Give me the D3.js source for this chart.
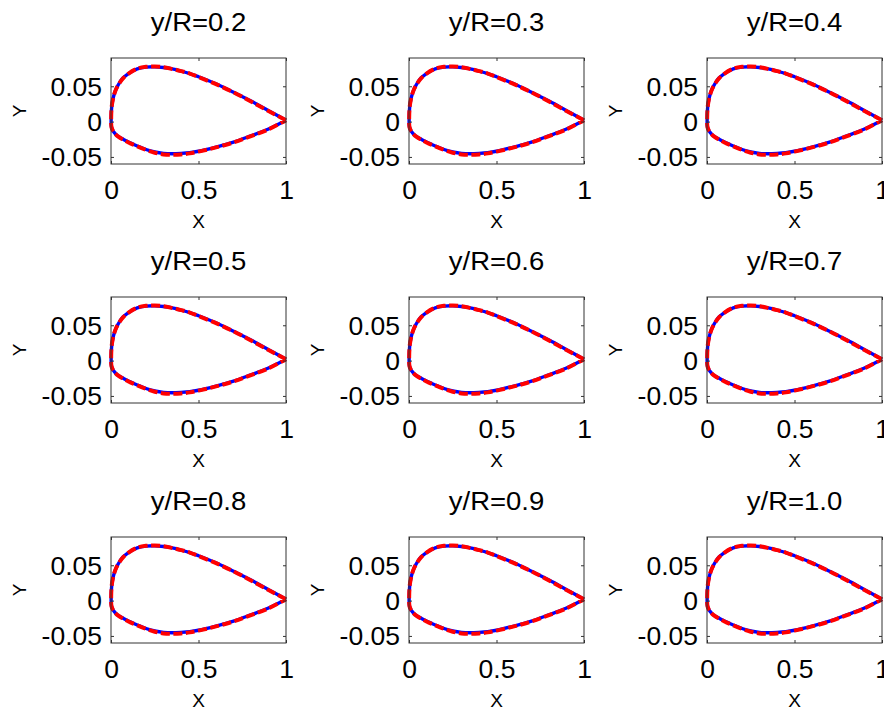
<!DOCTYPE html>
<html>
<head>
<meta charset="utf-8">
<script src="https://cdn.jsdelivr.net/npm/d3@7"></script>
<style>
  html, body { margin: 0; padding: 0; background: #fff; }
  svg { display: block; }
  text { font-family: "Liberation Sans", Arial, Helvetica, sans-serif; fill: #000; }
</style>
</head>
<body>
<script>
// ---- data ----
const panelTitles = ["y/R=0.2","y/R=0.3","y/R=0.4","y/R=0.5","y/R=0.6","y/R=0.7","y/R=0.8","y/R=0.9","y/R=1.0"];

// upper surface, trailing edge -> leading edge
const xUpper = [1.0, 0.9, 0.8, 0.7, 0.6, 0.5, 0.45, 0.4, 0.35, 0.3, 0.25, 0.2, 0.15, 0.1, 0.07, 0.05, 0.03, 0.02, 0.01, 0.005, 0.002, 0.001];
const yUpperRef  = [0.002, 0.0155, 0.029, 0.0415, 0.0535, 0.0635, 0.068, 0.0715, 0.0745, 0.0765, 0.0775, 0.0770, 0.0745, 0.0680, 0.0620, 0.0555, 0.0465, 0.0400, 0.0305, 0.0230, 0.0140, 0.0060];
const yUpperCalc = [0.002, 0.0150, 0.0285, 0.0415, 0.0530, 0.0630, 0.0680, 0.0715, 0.0745, 0.0770, 0.0780, 0.0775, 0.0750, 0.0680, 0.0615, 0.0550, 0.0465, 0.0400, 0.0305, 0.0230, 0.0140, 0.0060];

// lower surface, leading edge -> trailing edge
const xLower = [0.001, 0.003, 0.008, 0.02, 0.04, 0.07, 0.1, 0.15, 0.2, 0.25, 0.3, 0.35, 0.4, 0.45, 0.5, 0.6, 0.7, 0.8, 0.9, 1.0];
const yLowerRef  = [-0.004, -0.008, -0.0115, -0.016, -0.021, -0.025, -0.029, -0.0345, -0.0395, -0.0430, -0.0450, -0.0455, -0.0450, -0.0440, -0.0420, -0.0360, -0.0290, -0.0200, -0.0105, 0.002];
const yLowerCalc = [-0.004, -0.008, -0.0115, -0.016, -0.021, -0.0255, -0.0295, -0.0350, -0.0400, -0.0440, -0.0465, -0.0470, -0.0465, -0.0450, -0.0425, -0.0365, -0.0295, -0.0205, -0.0110, 0.002];

const xTicks = [0, 0.5, 1];
const xTickLabels = ["0", "0.5", "1"];
const yTicks = [-0.05, 0, 0.05];
const yTickLabels = ["-0.05", "0", "0.05"];

// ---- layout ----
const W = 884, H = 711;
const colX = [111, 409, 707];
const rowY = [58, 297, 537];
const pw = 175, ph = 106;

const svg = d3.select("body").append("svg").attr("width", W).attr("height", H);

const x = d3.scaleLinear().domain([0, 1]).range([0, pw]);
const y = d3.scaleLinear().domain([-0.06, 0.09]).range([ph, 0]);

const refPts = xUpper.map((v, i) => [v, yUpperRef[i]]).concat(xLower.map((v, i) => [v, yLowerRef[i]]));
const calcPts = xUpper.map((v, i) => [v, yUpperCalc[i]]).concat(xLower.map((v, i) => [v, yLowerCalc[i]]));

const line = d3.line().x(d => x(d[0])).y(d => y(d[1])).curve(d3.curveCatmullRom.alpha(0.5));

panelTitles.forEach((title, k) => {
  const r = Math.floor(k / 3), c = k % 3;
  const g = svg.append("g").attr("transform", `translate(${colX[c]},${rowY[r]})`);

  g.append("path").attr("d", line(refPts))
    .attr("fill", "none").attr("stroke", "#0000ff").attr("stroke-width", 3.4)
    .attr("stroke-linejoin", "round");
  g.append("path").attr("d", line(calcPts))
    .attr("fill", "none").attr("stroke", "#ff0000").attr("stroke-width", 4)
    .attr("stroke-dasharray", "9,3.5");

  const xb = g.append("g").attr("transform", `translate(0,${ph})`)
    .call(d3.axisBottom(x).tickValues(xTicks).tickSizeInner(-3).tickSizeOuter(0)
      .tickFormat((d, i) => xTickLabels[i]));
  const xt = g.append("g")
    .call(d3.axisTop(x).tickValues(xTicks).tickSizeInner(-3).tickSizeOuter(0).tickFormat(""));
  const yl = g.append("g")
    .call(d3.axisLeft(y).tickValues(yTicks).tickSizeInner(-3).tickSizeOuter(0)
      .tickFormat((d, i) => yTickLabels[i]));
  const yr = g.append("g").attr("transform", `translate(${pw},0)`)
    .call(d3.axisRight(y).tickValues(yTicks).tickSizeInner(-3).tickSizeOuter(0).tickFormat(""));

  [xb, xt, yl, yr].forEach(a => {
    a.select(".domain").remove();
    a.selectAll(".tick line").attr("stroke", "#333");
  });

  xb.selectAll(".tick text")
    .attr("y", 0).attr("dy", null)
    .attr("transform", "translate(0,35) scale(1.06,1)")
    .style("font-size", "25px").attr("fill", "#000");
  yl.selectAll(".tick text")
    .attr("x", 0).attr("dy", "0.36em")
    .attr("transform", "translate(-9,0) scale(1.06,1)")
    .style("font-size", "25px").attr("fill", "#000");
  [xb, yl].forEach(a => a.attr("font-family", null).attr("font-size", null));

  g.append("rect").attr("x", 0).attr("y", 0).attr("width", pw).attr("height", ph)
    .attr("fill", "none").attr("stroke", "#333").attr("stroke-width", 1);

  g.append("text").attr("text-anchor", "middle")
    .attr("transform", `translate(${pw / 2},-27) scale(1.1,1)`)
    .style("font-size", "25px").text(title);

  g.append("text").attr("text-anchor", "middle")
    .attr("x", pw / 2).attr("y", ph + 64)
    .style("font-size", "19px").text("X");
  g.append("text").attr("text-anchor", "middle")
    .attr("transform", `translate(-85,${ph / 2}) rotate(-90)`)
    .style("font-size", "19px").text("Y");
});
</script>
</body>
</html>
